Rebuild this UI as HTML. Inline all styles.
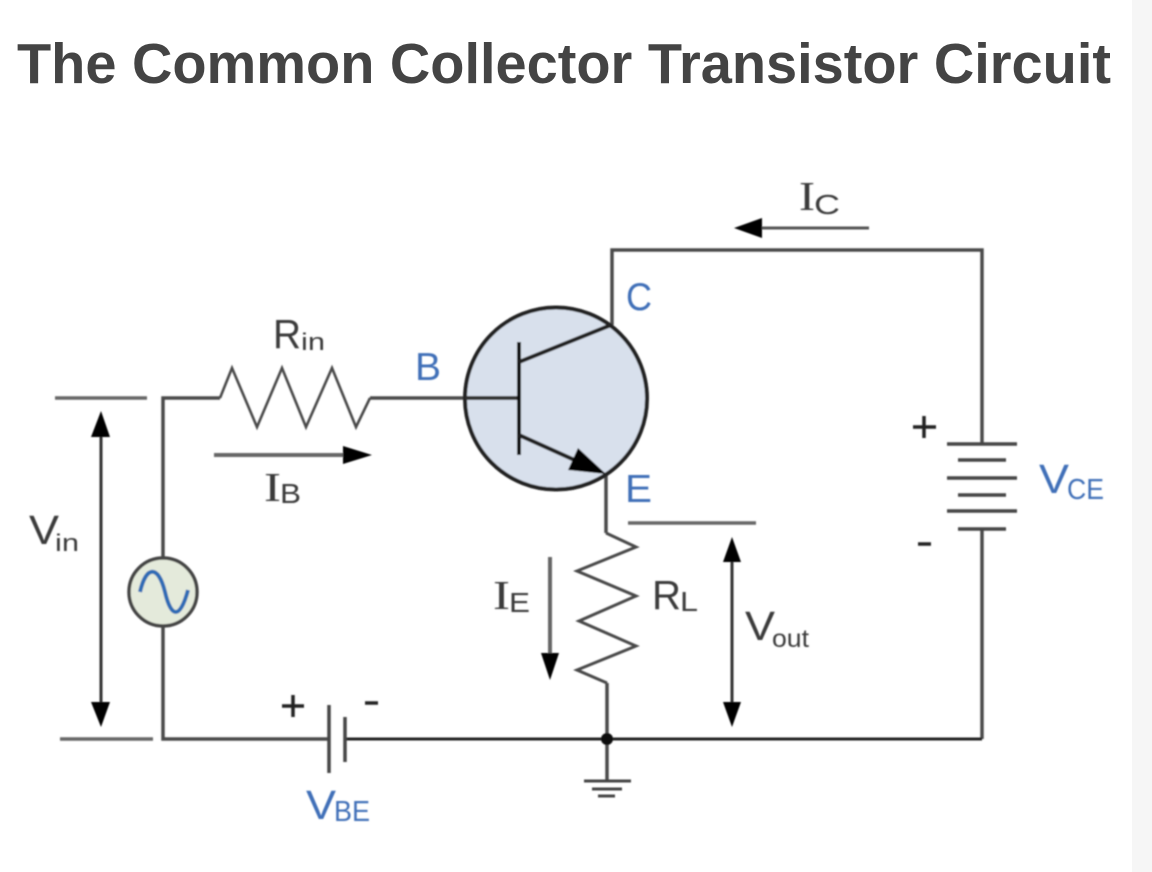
<!DOCTYPE html>
<html lang="en">
<head>
<meta charset="utf-8">
<title>The Common Collector Transistor Circuit</title>
<style>
html,body{margin:0;padding:0;width:1152px;height:872px;overflow:hidden;background:#fff}
svg{display:block;position:absolute;left:0;top:0}
text{font-family:"Liberation Sans",sans-serif}
</style>
</head>
<body>
<svg width="1152" height="872" viewBox="0 0 1152 872" xmlns="http://www.w3.org/2000/svg">
<defs><filter id="b" x="-5%" y="-5%" width="110%" height="110%"><feGaussianBlur stdDeviation="0.7"/></filter></defs>
<rect x="1132" y="0" width="20" height="872" fill="#f6f6f6"/>
<text x="17" y="83" font-size="57" font-weight="700" fill="#444" textLength="1094" lengthAdjust="spacingAndGlyphs">The Common Collector Transistor Circuit</text>
<g filter="url(#b)">
<g fill="none" stroke="#4a4a4a" stroke-width="3.5">
<path d="M612 325V250H982V444"/>
<path d="M982 529V739"/>
<path d="M606 474V533"/>
<path d="M606 533L636 547L577 571L636 596L579 621L636 646L577 670L607 683" stroke-width="3"/>
<path d="M607 683V781"/>
<path d="M163 557V398H220"/>
<path d="M220 398L232 368L257 427L282 368L306 427L332 368L356 427L370 398" stroke-width="2.6"/>
<path d="M370 398H464"/>
<path d="M163 627V739H329"/>
<path d="M345 739H982" stroke="#222" stroke-width="3"/>
<path d="M55 398H147M628 523H756M60 739H153" stroke="#666"/>
</g>
<circle cx="556" cy="398.5" r="91" fill="#d8e0ec" stroke="#222" stroke-width="4"/>
<path d="M466 398H519" stroke="#333" stroke-width="4" fill="none"/>
<path d="M519 342V455" stroke="#111" stroke-width="4" fill="none"/>
<path d="M519 362L611 325M519 435L590 467" stroke="#222" stroke-width="4" fill="none"/>
<path d="M606 474L568 470L578 448Z" fill="#000"/>
<circle cx="163" cy="592" r="34" fill="#e4eadb" stroke="#444" stroke-width="3.5"/>
<path d="M140 592C146 566 158 564 165 592C171 618 180 620 188 590" fill="none" stroke="#2e6cb5" stroke-width="4"/>
<g stroke="#333" stroke-width="3" fill="none">
<path d="M329 705V773M345 717V762" stroke="#444" stroke-width="3.5"/>
<path d="M947 444H1017M947 478H1017M947 511H1017M958 460H1006M958 495H1006M958 529H1006" stroke="#444" stroke-width="3.5"/>
<path d="M584 781H631M592 789H622M598 796H615" stroke="#444"/>
</g>
<circle cx="607" cy="739" r="6" fill="#111"/>
<g stroke="#333" stroke-width="3" fill="none">
<path d="M101 430V710"/>
<path d="M732 555V710"/>
<path d="M214 455H350" stroke="#666" stroke-width="4"/>
<path d="M869 228H755" stroke="#555"/>
<path d="M550 557V660" stroke="#666" stroke-width="4"/>
</g>
<g fill="#000">
<path d="M101 411L110 437H91Z"/>
<path d="M101 727L110 702H91Z"/>
<path d="M732 537L741 562H723Z"/>
<path d="M732 727L741 702H723Z"/>
<path d="M372 455L343 446V464Z"/>
<path d="M734 228L762 218V238Z"/>
<path d="M550 680L541 653H559Z"/>
</g>
<g fill="#3f6fb8">
<text x="626" y="310" font-size="39" textLength="26" lengthAdjust="spacingAndGlyphs">C</text>
<text x="415" y="380" font-size="39" textLength="26" lengthAdjust="spacingAndGlyphs">B</text>
<text x="625" y="502" font-size="39" textLength="27" lengthAdjust="spacingAndGlyphs">E</text>
<text x="306" y="819" font-size="41" textLength="30" lengthAdjust="spacingAndGlyphs">V</text>
<text x="334" y="821" font-size="29" textLength="36" lengthAdjust="spacingAndGlyphs">BE</text>
<text x="1039" y="493" font-size="41" textLength="30" lengthAdjust="spacingAndGlyphs">V</text>
<text x="1067" y="499" font-size="29" textLength="37" lengthAdjust="spacingAndGlyphs">CE</text>
</g>
<g fill="#3a3a3a">
<text x="799" y="210" font-size="41" style="font-family:'Liberation Serif',serif" textLength="16" lengthAdjust="spacingAndGlyphs">I</text>
<text x="814" y="214" font-size="28" textLength="26" lengthAdjust="spacingAndGlyphs">C</text>
<text x="264" y="501" font-size="41" style="font-family:'Liberation Serif',serif" textLength="17" lengthAdjust="spacingAndGlyphs">I</text>
<text x="280" y="503" font-size="28" textLength="21" lengthAdjust="spacingAndGlyphs">B</text>
<text x="493" y="609" font-size="41" style="font-family:'Liberation Serif',serif" textLength="17" lengthAdjust="spacingAndGlyphs">I</text>
<text x="509" y="612" font-size="28" textLength="21" lengthAdjust="spacingAndGlyphs">E</text>
<text x="273" y="348" font-size="41" textLength="28" lengthAdjust="spacingAndGlyphs">R</text>
<text x="301" y="350" font-size="24" textLength="24" lengthAdjust="spacingAndGlyphs">in</text>
<text x="652" y="609" font-size="41" textLength="29" lengthAdjust="spacingAndGlyphs">R</text>
<text x="680" y="611" font-size="28" textLength="18" lengthAdjust="spacingAndGlyphs">L</text>
<text x="29" y="544" font-size="41" textLength="30" lengthAdjust="spacingAndGlyphs">V</text>
<text x="55" y="551" font-size="24" textLength="24" lengthAdjust="spacingAndGlyphs">in</text>
<text x="745" y="640" font-size="41" textLength="30" lengthAdjust="spacingAndGlyphs">V</text>
<text x="772" y="647" font-size="25" textLength="37" lengthAdjust="spacingAndGlyphs">out</text>
</g>
<g stroke="#222" stroke-width="3.5" fill="none">
<path d="M282 706H304M293 695V717"/>
<path d="M365 703H378"/>
<path d="M913 427H936M924 416V438"/>
<path d="M918 544H931"/>
</g>
</g>
</svg>
</body>
</html>
